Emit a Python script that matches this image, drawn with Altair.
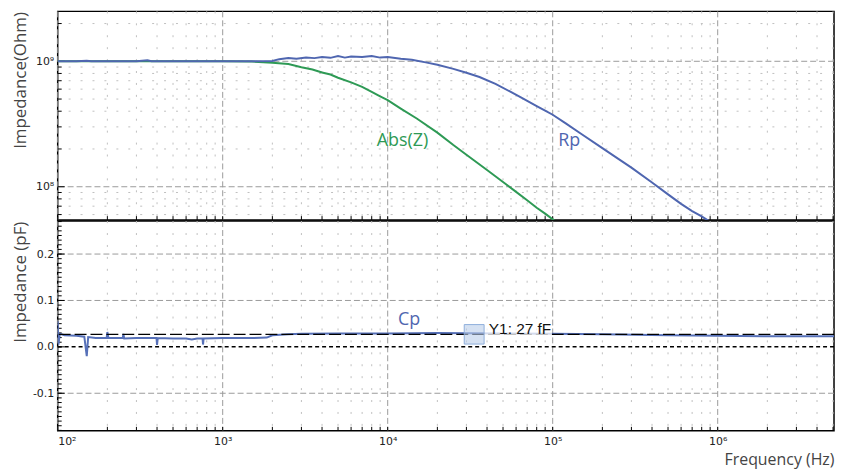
import altair as alt
import pandas as pd

# ---------------- data ----------------
absz_freq = [100, 200, 500, 1000, 1500, 2000, 2500, 3000, 3500, 4000, 4500, 5000, 6000, 7000,
             8000, 9000, 10000, 12000, 15000, 20000, 25000, 30000, 40000, 50000, 60000,
             70000, 80000, 90000, 100000, 105000]
absz_val = [1.0e9, 1.0e9, 1.0e9, 1.0e9, 0.995e9, 0.975e9, 0.95e9, 0.895e9, 0.86e9, 0.815e9,
            0.785e9, 0.74e9, 0.68e9, 0.625e9, 0.57e9, 0.525e9, 0.49e9, 0.42e9, 0.35e9,
            0.27e9, 0.215e9, 0.18e9, 0.136e9, 0.109e9, 0.091e9, 0.078e9, 0.068e9, 0.061e9,
            0.055e9, 0.052e9]

rp_freq = [100, 130, 150, 160, 200, 300, 350, 370, 500, 700, 1000, 1500, 2000, 2200, 2500,
           2800, 3200, 3600, 4000, 4500, 5000, 5500, 6000, 7000, 8000, 9000, 10000, 12000,
           14000, 17000, 20000, 25000, 30000, 36000, 45000, 55000, 65000, 80000, 90000, 100000,
           120000, 150000, 200000, 250000, 300000, 400000, 500000, 600000, 700000, 800000,
           900000]
rp_val = [1.0e9, 1.0e9, 1.012e9, 1.0e9, 1.0e9, 1.0e9, 1.018e9, 1.0e9, 1.0e9, 1.0e9, 1.0e9,
          1.0e9, 1.005e9, 1.04e9, 1.06e9, 1.05e9, 1.07e9, 1.06e9, 1.08e9, 1.065e9, 1.10e9,
          1.07e9, 1.09e9, 1.08e9, 1.10e9, 1.07e9, 1.08e9, 1.05e9, 1.03e9, 0.98e9, 0.94e9,
          0.87e9, 0.81e9, 0.75e9, 0.66e9, 0.575e9, 0.51e9, 0.44e9, 0.405e9, 0.375e9, 0.32e9,
          0.262e9, 0.203e9, 0.167e9, 0.142e9, 0.108e9, 0.087e9, 0.073e9, 0.064e9, 0.058e9,
          0.0525e9]

cp_freq = [100, 101, 103, 110, 130, 145, 150, 153, 170, 198, 200, 203, 248, 250, 253, 300,
           397, 400, 404, 500, 600, 650, 700, 755, 760, 766, 1000, 1500, 1850, 2000, 2500,
           3000, 5000, 10000, 20000, 50000, 100000, 200000, 500000, 1000000, 2000000, 5070000]
cp_val = [0.055, 0.005, 0.028, 0.025, 0.024, 0.022, -0.02, 0.021, 0.019, 0.019, 0.032, 0.019,
          0.019, 0.028, 0.018, 0.019, 0.019, 0.004, 0.019, 0.018, 0.018, 0.016, 0.018, 0.018,
          0.005, 0.018, 0.019, 0.019, 0.02, 0.025, 0.027, 0.028, 0.029, 0.029, 0.030, 0.029,
          0.028, 0.027, 0.025, 0.024, 0.023, 0.023]

y1_value = [0.027]
zero_value = [0.0]

curve_labels = ["Abs(Z)", "Rp"]
curve_label_f = [12300, 126000]
curve_label_z = [2.32e8, 2.32e8]
curve_label_color = ["#2e9a55", "#4f66b0"]

cp_label = ["Cp"]
cp_label_f = [13500]
cp_label_v = [0.058]

y1_text = ["Y1: 27 fF"]
y1_text_f = [41000]
y1_text_v = [0.038]
y1_box_f = [29100, 38400]
y1_box_v = [0.006, 0.048]
y1_bg_f = [38400, 99000]
y1_bg_v = [0.019, 0.052]

x_major = [1e2, 1e3, 1e4, 1e5, 1e6]
x_minor = [m * d for d in x_major for m in range(2, 10) if m * d < 5.07e6]
yt_major = [1e8, 1e9]
yt_minor = [m * d for d in [1e7, 1e8, 1e9] for m in range(2, 10) if 5.42e7 < m * d < 2.5e9]
yb_grid = [-0.1, 0.1, 0.2]
yb_major = [-0.1, 0.0, 0.1, 0.2]
yb_minor = [round(-0.18 + 0.01 * i, 2) for i in range(46)]

# ---------------- layout ----------------
W = 781
H1 = 210
H2 = 211

xs = alt.Scale(type="log", domain=[100, 5.07e6], nice=False)
yts = alt.Scale(type="log", domain=[5.42e7, 2.5e9], nice=False)
ybs = alt.Scale(domain=[-0.181, 0.271], nice=False, zero=False)

MAJ = "#9a9a9a"
MIN = "#c0c0c0"

top_x_axis = None
top_y_axis = alt.Axis(values=yt_major, labelExpr="'10' + (datum.value > 5e8 ? '⁹' : '⁸')",
                      title="Impedance(Ohm)", ticks=False, domain=False, grid=False,
                      labelPadding=4, titleX=-37, titleY=69, titleBaseline="middle",
                      titleAlign="center", titleAngle=270)
bot_x_axis = alt.Axis(values=x_major,
                      labelExpr="'10' + ['²','³','⁴','⁵','⁶'][round(log(datum.value)/LN10) - 2]",
                      title="Frequency (Hz)", ticks=False, domain=False, grid=False,
                      labelPadding=5, titleAnchor="end", titlePadding=5, titleFontSize=16)
bot_y_axis = alt.Axis(values=yb_major,
                      labelExpr="replace(format(datum.value, '.1f'), '−', '-')",
                      title="Impedance (pF)", ticks=False, domain=False, grid=False,
                      labelPadding=4, titleX=-37, titleY=61, titleBaseline="middle",
                      titleAlign="center", titleAngle=270)


def X(field, axis):
    return alt.X(field, scale=xs, axis=axis)


def panel(ys, xaxis, yaxis, h, ymaj_vals, ymin_vals, hgrid_min, hgrid_maj):
    layers = []
    layers.append(alt.Chart(pd.DataFrame({"f": x_minor})).mark_rule(
        color=MIN, strokeDash=[2, 10], strokeWidth=1).encode(x=X("f:Q", xaxis)))
    layers.append(alt.Chart(pd.DataFrame({"f": x_major})).mark_rule(
        color=MAJ, strokeDash=[6, 3], strokeWidth=1).encode(x=X("f:Q", xaxis)))
    if hgrid_min:
        layers.append(alt.Chart(pd.DataFrame({"v": hgrid_min})).mark_rule(
            color=MIN, strokeDash=[2, 10], strokeWidth=1).encode(
            y=alt.Y("v:Q", scale=ys, axis=yaxis)))
    layers.append(alt.Chart(pd.DataFrame({"v": hgrid_maj})).mark_rule(
        color=MAJ, strokeDash=[6, 3], strokeWidth=1).encode(
        y=alt.Y("v:Q", scale=ys, axis=yaxis)))
    layers.append(alt.Chart(pd.DataFrame({"f": x_minor + x_major})).mark_rule(
        color="black", strokeWidth=1).encode(
        x=X("f:Q", xaxis), y=alt.value(h), y2=alt.value(h - 4)))
    layers.append(alt.Chart(pd.DataFrame({"v": ymin_vals})).mark_rule(color="black").encode(
        y=alt.Y("v:Q", scale=ys, axis=yaxis), x=alt.value(0), x2=alt.value(4)))
    layers.append(alt.Chart(pd.DataFrame({"v": ymaj_vals})).mark_rule(color="black").encode(
        y=alt.Y("v:Q", scale=ys, axis=yaxis), x=alt.value(0), x2=alt.value(7)))
    return layers


top_layers = panel(yts, top_x_axis, top_y_axis, H1, yt_major, yt_minor, yt_minor, yt_major)

absz_line = alt.Chart(pd.DataFrame({"f": absz_freq, "v": absz_val})).mark_line(
    color="#2e9a55", strokeWidth=2, clip=True).encode(
    x=X("f:Q", top_x_axis), y=alt.Y("v:Q", scale=yts, axis=top_y_axis), order="f:Q")
rp_line = alt.Chart(pd.DataFrame({"f": rp_freq, "v": rp_val})).mark_line(
    color="#4f66b0", strokeWidth=2, clip=True).encode(
    x=X("f:Q", top_x_axis), y=alt.Y("v:Q", scale=yts, axis=top_y_axis), order="f:Q")
lbl = alt.Chart(pd.DataFrame({"t": curve_labels, "f": curve_label_f, "v": curve_label_z,
                              "c": curve_label_color})).mark_text(
    font="Open Sans", fontSize=18, align="center", baseline="middle").encode(
    x=X("f:Q", top_x_axis), y=alt.Y("v:Q", scale=yts, axis=top_y_axis),
    text="t:N", color=alt.Color("c:N", scale=None))

top = alt.layer(*top_layers, absz_line, rp_line, lbl).properties(width=W, height=H1)

bot_layers = panel(ybs, bot_x_axis, bot_y_axis, H2, yb_major, yb_minor, None, yb_grid)

zero_line = alt.Chart(pd.DataFrame({"v": zero_value})).mark_rule(
    color="black", strokeDash=[4, 3], strokeWidth=1.5).encode(
    y=alt.Y("v:Q", scale=ybs, axis=bot_y_axis))
cp_line = alt.Chart(pd.DataFrame({"f": cp_freq, "v": cp_val})).mark_line(
    color="#5670b8", strokeWidth=2, clip=True).encode(
    x=X("f:Q", bot_x_axis), y=alt.Y("v:Q", scale=ybs, axis=bot_y_axis), order="f:Q")
y1_line = alt.Chart(pd.DataFrame({"v": y1_value})).mark_rule(
    color="black", strokeDash=[12, 4], strokeWidth=1.3).encode(
    y=alt.Y("v:Q", scale=ybs, axis=bot_y_axis))
y1_bg = alt.Chart(pd.DataFrame({"f": [y1_bg_f[0]], "f2": [y1_bg_f[1]],
                                "v": [y1_bg_v[0]], "v2": [y1_bg_v[1]]})).mark_rect(
    color="white", opacity=0.75).encode(
    x=X("f:Q", bot_x_axis), x2="f2:Q",
    y=alt.Y("v:Q", scale=ybs, axis=bot_y_axis), y2="v2:Q")
y1_box = alt.Chart(pd.DataFrame({"f": [y1_box_f[0]], "f2": [y1_box_f[1]],
                                 "v": [y1_box_v[0]], "v2": [y1_box_v[1]]})).mark_rect(
    fill="#b9cdea", fillOpacity=0.6, stroke="#8eaedb", strokeWidth=1).encode(
    x=X("f:Q", bot_x_axis), x2="f2:Q",
    y=alt.Y("v:Q", scale=ybs, axis=bot_y_axis), y2="v2:Q")
y1_lbl = alt.Chart(pd.DataFrame({"t": y1_text, "f": y1_text_f, "v": y1_text_v})).mark_text(
    font="Liberation Sans", fontSize=15.5, align="left", baseline="middle", color="#111").encode(
    x=X("f:Q", bot_x_axis), y=alt.Y("v:Q", scale=ybs, axis=bot_y_axis), text="t:N")
cp_lbl = alt.Chart(pd.DataFrame({"t": cp_label, "f": cp_label_f, "v": cp_label_v})).mark_text(
    font="Open Sans", fontSize=18, align="center", baseline="middle", color="#4f66b0").encode(
    x=X("f:Q", bot_x_axis), y=alt.Y("v:Q", scale=ybs, axis=bot_y_axis), text="t:N")

bottom = alt.layer(*bot_layers, zero_line, cp_line, y1_line, y1_bg, y1_box, y1_lbl,
                   cp_lbl).properties(width=W, height=H2)

chart = alt.vconcat(top, bottom, spacing=1, bounds="flush").properties(
    padding={"left": 3, "top": 0, "right": 0, "bottom": 0},
    background="white"
).configure_view(
    stroke="black", strokeWidth=1.5
).configure_axis(
    labelFont="DejaVu Sans", labelFontSize=11, labelColor="#222",
    titleFont="Open Sans", titleFontSize=17, titleColor="#444", titleFontWeight="normal"
)

chart.save("out.html", embed_options={"renderer": "svg", "actions": False})
